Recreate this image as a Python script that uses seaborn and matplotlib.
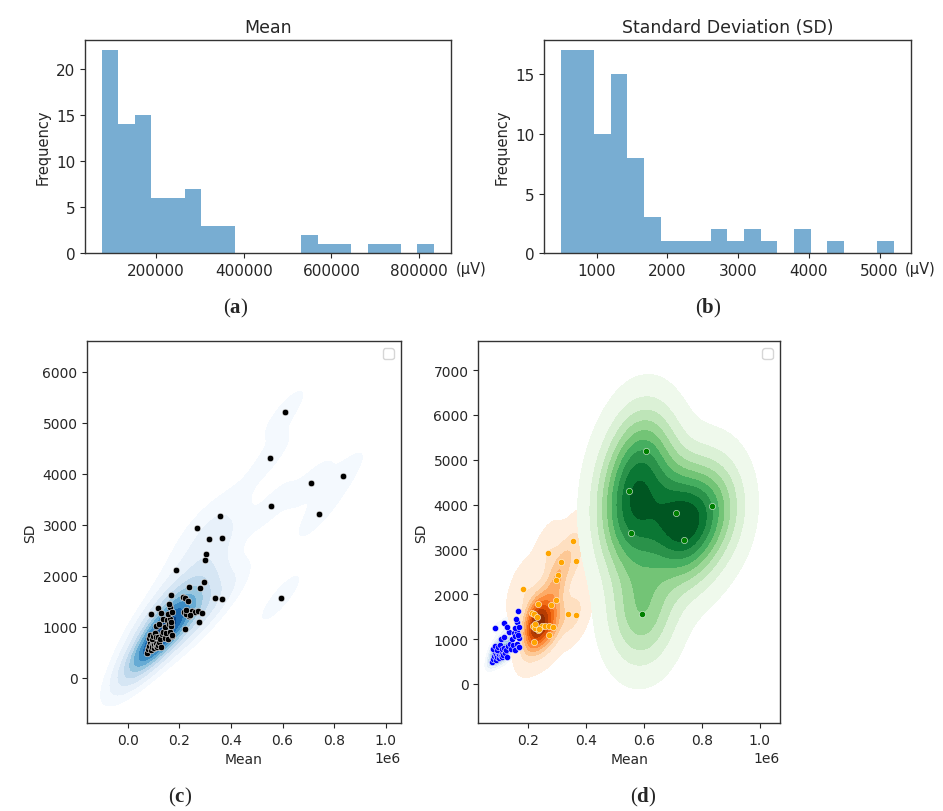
import numpy as np
import pandas as pd
import matplotlib
matplotlib.use("Agg")
import matplotlib.pyplot as plt
import seaborn as sns
from seaborn._statistics import KDE

# ---- data: mean and SD (uV) per channel, three clusters ----
blue_mean = [76000, 80000, 84000, 86000, 90000, 92000, 95000, 98000, 100000, 103000,
             105000, 108000, 110000, 112000, 82000, 88000, 94000, 99000, 106000, 111000,
             89000, 109000, 116000, 122000, 128000, 118000, 125000, 132000, 138000, 143000,
             149000, 120000, 135000, 145000, 119000, 130000, 155000, 162000, 170000, 172000,
             153000, 158000, 165000, 169000, 168000, 156000, 163000, 171000, 167000, 160000]
blue_sd = [490, 560, 620, 700, 540, 650, 610, 690, 580, 660,
           710, 620, 680, 600, 780, 840, 760, 820, 880, 790,
           1240, 1010, 650, 700, 610, 800, 760, 850, 890, 780,
           870, 1050, 1150, 1000, 1360, 1270, 760, 890, 820, 830,
           1130, 1060, 1160, 1020, 1100, 1250, 1380, 1280, 1630, 1450]

orange_mean = [356000, 269000, 314000, 367000, 304500, 297500, 185000, 296500, 236800, 280500,
               338000, 367000, 236800, 248000, 260000, 272400, 288500, 275000, 223000, 214000,
               222000, 233000, 219000, 225000, 240000, 226000]
orange_sd = [3180, 2930, 2720, 2735, 2436, 2308, 2113, 1872, 1782, 1760,
             1564, 1541, 1210, 1301, 1286, 1301, 1263, 1098, 947, 1580,
             1555, 1495, 1290, 1240, 1225, 1330]

green_mean = [550000, 555000, 593000, 608000, 710000, 740000, 834000]
green_sd = [4310, 3370, 1570, 5204, 3810, 3220, 3960]

df = pd.DataFrame({
    "Mean": blue_mean + orange_mean + green_mean,
    "SD": blue_sd + orange_sd + green_sd,
})


def linear_levels(x, y, n=10, lo=0.07):
    # iso-proportions giving evenly spaced density contours (old-style kdeplot look)
    dens, _ = KDE()(np.asarray(x, float), np.asarray(y, float))
    flat = np.sort(dens.ravel())
    marks = np.linspace(lo, 1.0, n) * flat[-1]
    return [flat[flat < m].sum() / flat.sum() for m in marks]


sns.set_style("ticks")
plt.rcParams["font.family"] = ["DejaVu Sans"]
plt.rcParams["mathtext.fontset"] = "custom"
plt.rcParams["mathtext.rm"] = "Liberation Serif"
plt.rcParams["mathtext.bf"] = "Liberation Serif:bold"
plt.rcParams["xtick.major.size"] = 3.5
plt.rcParams["ytick.major.size"] = 3.5
plt.rcParams["axes.edgecolor"] = "#333333"
plt.rcParams["axes.linewidth"] = 1.0

W, H = 943, 812
fig = plt.figure(figsize=(W / 100, H / 100), dpi=100)


def box(l, t, r, b):
    return [l / W, 1 - b / H, (r - l) / W, (b - t) / H]


ax_a = fig.add_axes(box(85, 41, 450.7, 254.3))
ax_b = fig.add_axes(box(544, 41, 910.7, 254.3))
ax_c = fig.add_axes(box(87.3, 342.3, 400.7, 724))
ax_d = fig.add_axes(box(478.3, 342.3, 780, 724))

# (a) histogram of means
sns.histplot(x=df["Mean"], bins=20, color="#1f77b4", alpha=0.6, linewidth=0, ax=ax_a)
ax_a.set_title("Mean", fontsize=12.5)
ax_a.set_xlabel("")
ax_a.set_ylabel("Frequency", fontsize=10.5)
ax_a.set_xticks([200000, 400000, 600000, 800000])
ax_a.ticklabel_format(style="plain", axis="x")
ax_a.tick_params(labelsize=11)
ax_a.text(1.015, -0.07, "(µV)", transform=ax_a.transAxes, ha="left", va="center", fontsize=10.5)

# (b) histogram of SDs
sns.histplot(x=df["SD"], bins=20, color="#1f77b4", alpha=0.6, linewidth=0, ax=ax_b)
ax_b.set_title("Standard Deviation (SD)", fontsize=12.5)
ax_b.set_xlabel("")
ax_b.set_ylabel("Frequency", fontsize=10.5)
ax_b.set_xticks([1000, 2000, 3000, 4000, 5000])
ax_b.set_yticks([0, 5, 10, 15])
ax_b.tick_params(labelsize=11)
ax_b.text(0.984, -0.07, "(µV)", transform=ax_b.transAxes, ha="left", va="center", fontsize=10.5)

# (c) KDE of all channels + scatter
sns.kdeplot(data=df, x="Mean", y="SD", fill=True, cmap="Blues", ax=ax_c)
sns.scatterplot(data=df, x="Mean", y="SD", color="black", s=22, ax=ax_c)
ax_c.set_xlim(-157000, 1058000)
ax_c.set_ylim(-890, 6600)
ax_c.set_xticks([0, 200000, 400000, 600000, 800000, 1000000])
ax_c.set_yticks([0, 1000, 2000, 3000, 4000, 5000, 6000])
ax_c.tick_params(labelsize=10)
ax_c.set_xlabel("Mean", fontsize=10)
ax_c.set_ylabel("SD", fontsize=10)
ax_c.legend(handles=[], loc="upper right")

# (d) per-cluster KDE + scatter
clusters = [(blue_mean, blue_sd, "Blues", "blue", 0.5, 0.07),
            (orange_mean, orange_sd, "Oranges", "orange", 1.0, 0.015),
            (green_mean, green_sd, "Greens", "green", 1.0, 0.05)]
for mx, sy, cmap, col, al, lo in clusters:
    sns.kdeplot(x=mx, y=sy, fill=True, cmap=cmap, alpha=al,
                levels=linear_levels(mx, sy, lo=lo), ax=ax_d)
for mx, sy, cmap, col, al, lo in clusters:
    sns.scatterplot(x=mx, y=sy, color=col, s=20, ax=ax_d)
ax_d.set_xlim(30000, 1070000)
ax_d.set_ylim(-870, 7640)
ax_d.set_xticks([200000, 400000, 600000, 800000, 1000000])
ax_d.set_yticks([0, 1000, 2000, 3000, 4000, 5000, 6000, 7000])
ax_d.tick_params(labelsize=10)
ax_d.set_xlabel("Mean", fontsize=10)
ax_d.set_ylabel("SD", fontsize=10)
ax_d.legend(handles=[], loc="upper right")

# panel letters
for x, y, s in [(236, 308, "a"), (708, 308, "b"), (180, 797, "c"), (643, 797, "d")]:
    fig.text(x / W, 1 - y / H, r"($\mathbf{%s}$)" % s, ha="center", va="center",
             fontsize=15, family="Liberation Serif")

fig.savefig("out.png", dpi=100)
